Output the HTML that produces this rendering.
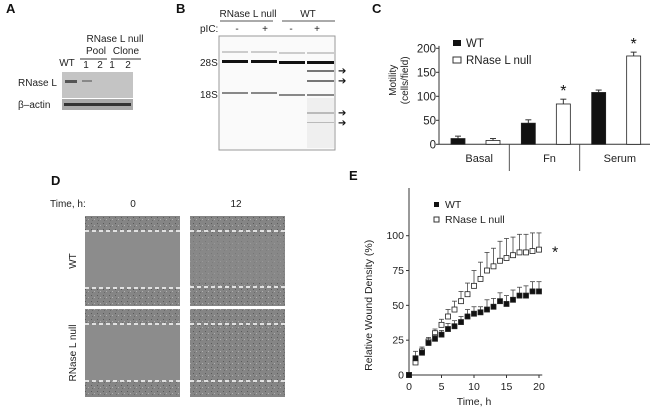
<!DOCTYPE html>
<html><head><meta charset="utf-8"><style>
body{margin:0;background:#fff;}
svg{display:block;font-family:"Liberation Sans",Arial,sans-serif;}
</style></head><body>
<svg id="fig" width="650" height="410" viewBox="0 0 650 410">
<defs>
<pattern id="cells" width="6" height="6" patternUnits="userSpaceOnUse">
<rect width="6" height="6" fill="#858585"/><rect x="1" y="1" width="1" height="1" fill="#5a5a5a"/><rect x="4" y="3" width="1" height="1" fill="#b0b0b0"/><rect x="2" y="4" width="1" height="1" fill="#6a6a6a"/>
</pattern>
</defs>
<g font-weight="bold" font-size="13" fill="#111">
<text x="6" y="13">A</text>
<text x="176" y="13">B</text>
<text x="372" y="13">C</text>
<text x="51" y="185">D</text>
<text x="349" y="180">E</text>
</g>
<!-- Panel A -->
<g font-size="10" fill="#222">
<text x="115" y="42" text-anchor="middle">RNase L null</text>
<text x="96" y="54" text-anchor="middle">Pool</text>
<text x="126" y="54" text-anchor="middle">Clone</text>
<line x1="80" y1="59" x2="107" y2="59" stroke="#333"/><line x1="111" y1="59" x2="141" y2="59" stroke="#333"/>
<text x="67" y="66" text-anchor="middle">WT</text>
<text x="86" y="68" text-anchor="middle">1</text><text x="100" y="68" text-anchor="middle">2</text>
<text x="112" y="68" text-anchor="middle">1</text><text x="128" y="68" text-anchor="middle">2</text>
<text x="18" y="86">RNase L</text>
<text x="18" y="108">β–actin</text>
<rect x="62" y="72" width="71" height="26" fill="#c4c4c4"/>
<rect x="65" y="80" width="12" height="3" fill="#555"/><rect x="82" y="80" width="10" height="2" fill="#888"/>
<rect x="62" y="99" width="71" height="11" fill="#aaa"/>
<rect x="64" y="103" width="67" height="3" fill="#333"/>
</g>
<!-- Panel B -->
<g font-size="10" fill="#222">
<text x="248" y="17" text-anchor="middle">RNase L null</text>
<line x1="220" y1="21" x2="273" y2="21" stroke="#555"/>
<text x="308" y="17" text-anchor="middle">WT</text>
<line x1="282" y1="21" x2="335" y2="21" stroke="#555"/>
<text x="200" y="32">pIC:</text>
<text x="237" y="32" text-anchor="middle">-</text><text x="265" y="32" text-anchor="middle">+</text>
<text x="291" y="32" text-anchor="middle">-</text><text x="317" y="32" text-anchor="middle">+</text>
<text x="200" y="66">28S</text><text x="200" y="98">18S</text>
<rect x="219" y="36" width="116" height="114" fill="#fafafa" stroke="#999"/>
<g fill="#111"><rect x="222" y="60" width="26" height="3"/><rect x="251" y="60" width="26" height="3"/><rect x="279" y="61" width="26" height="3"/><rect x="307" y="61" width="27" height="3"/></g>
<g fill="#888"><rect x="222" y="92" width="26" height="2"/><rect x="251" y="92" width="26" height="2"/><rect x="279" y="94" width="26" height="2"/><rect x="307" y="94" width="27" height="2"/></g>
<g fill="#ccc"><rect x="222" y="51" width="26" height="2"/><rect x="251" y="51" width="26" height="2"/><rect x="279" y="52" width="26" height="2"/><rect x="307" y="52" width="27" height="2"/></g>
<g fill="#777"><rect x="307" y="70" width="27" height="2"/><rect x="307" y="80" width="27" height="2"/><rect x="307" y="112" width="27" height="2"/><rect x="307" y="122" width="27" height="1"/></g>
<rect x="307" y="98" width="27" height="50" fill="#e8e8e8" opacity=".6"/>
<g font-size="10" fill="#111"><text x="338" y="74">➔</text><text x="338" y="84">➔</text><text x="338" y="116">➔</text><text x="338" y="126">➔</text></g>
</g>
<!-- Panel C -->
<g id="chartC"></g>
<!-- Panel D -->
<g font-size="10" fill="#222">
<text x="50" y="207">Time, h:</text>
<text x="133" y="207" text-anchor="middle">0</text>
<text x="236" y="207" text-anchor="middle">12</text>
<text transform="translate(76,261) rotate(-90)" text-anchor="middle">WT</text>
<text transform="translate(76,353) rotate(-90)" text-anchor="middle">RNase L null</text>
<rect x="85" y="216" width="95" height="90" fill="url(#cells)"/>
<rect x="85" y="231" width="95" height="57" fill="#8c8c8c"/>
<rect x="190" y="216" width="95" height="90" fill="url(#cells)"/>
<rect x="190" y="236" width="95" height="46" fill="#8a8a8a" opacity=".6"/>
<rect x="85" y="309" width="95" height="88" fill="url(#cells)"/>
<rect x="85" y="324" width="95" height="57" fill="#8c8c8c"/>
<rect x="190" y="309" width="95" height="88" fill="url(#cells)"/>
<g stroke="#fff" stroke-width="1.5" stroke-dasharray="4 3">
<line x1="85" y1="231" x2="180" y2="231"/><line x1="85" y1="288" x2="180" y2="288"/>
<line x1="190" y1="231" x2="285" y2="231"/><line x1="190" y1="287" x2="285" y2="287"/>
<line x1="85" y1="324" x2="180" y2="324"/><line x1="85" y1="381" x2="180" y2="381"/>
<line x1="190" y1="324" x2="285" y2="324"/><line x1="190" y1="381" x2="285" y2="381"/>
</g>
</g>
<!-- Panel E -->
<g id="chartE"></g>
</svg>
<script>
const NS="http://www.w3.org/2000/svg";
function mk(p,t,a){const e=document.createElementNS(NS,t);for(const k in a)e.setAttribute(k,a[k]);p.appendChild(e);return e;}
// ---- Panel C data
const cCategories=["Basal","Fn","Serum"];
const cWT=[12,44,108];
const cWTerr=[5,7,5];
const cNull=[8,84,184];
const cNullerr=[4,10,8];
const cTicks=[0,50,100,150,200];
const cStars=[false,true,true];
(function(){
const g=document.getElementById('chartC');
const x0=439,y0=144.3,ppu=0.48,xEnd=650;
const y=v=>y0-v*ppu;
const groupW=(xEnd-x0)/3;
mk(g,'line',{x1:x0,y1:y(205),x2:x0,y2:y0,stroke:'#333'});
mk(g,'line',{x1:x0,y1:y0,x2:xEnd,y2:y0,stroke:'#333'});
cTicks.forEach(t=>{mk(g,'line',{x1:x0-3,y1:y(t),x2:x0,y2:y(t),stroke:'#333'});
const tx=mk(g,'text',{x:x0-3,y:y(t)+4,'text-anchor':'end','font-size':11.5,fill:'#222'});tx.textContent=t;});
const yl=mk(g,'text',{transform:`translate(${x0-43},${y0-64}) rotate(-90)`,'text-anchor':'middle','font-size':10,fill:'#222'});
yl.textContent='Motility';
const yl2=mk(g,'text',{transform:`translate(${x0-31},${y0-64}) rotate(-90)`,'text-anchor':'middle','font-size':10,fill:'#222'});
yl2.textContent='(cells/field)';
cCategories.forEach((c,i)=>{
const gx=x0+groupW*i;
const lbl=mk(g,'text',{x:gx+groupW/2+5,y:162,'text-anchor':'middle','font-size':11,fill:'#222'});


lbl.textContent=c;
if(i>0)mk(g,'line',{x1:gx,y1:y0,x2:gx,y2:171,stroke:'#555'});
const bw=14;
[[cWT[i],cWTerr[i],'#111',gx+12],[cNull[i],cNullerr[i],'#fff',gx+47]].forEach((b,j)=>{
mk(g,'line',{x1:b[3]+bw/2,y1:y(b[0]+b[1]),x2:b[3]+bw/2,y2:y(b[0]),stroke:'#333'});
mk(g,'line',{x1:b[3]+bw/2-3,y1:y(b[0]+b[1]),x2:b[3]+bw/2+3,y2:y(b[0]+b[1]),stroke:'#333'});
const r=mk(g,'rect',{x:b[3],y:y(b[0]),width:bw,height:b[0]*ppu,fill:b[2],stroke:'#222','stroke-width':0.8});


});
if(cStars[i]){const s=mk(g,'text',{x:gx+54,y:y(cNull[i]+cNullerr[i])-3,'text-anchor':'middle','font-size':16,fill:'#111'});s.textContent='*';}
});
const lg=mk(g,'g',{});


mk(lg,'rect',{x:453,y:40,width:8,height:6,fill:'#111'});
mk(lg,'text',{x:466,y:47,'font-size':11.5,fill:'#222'}).textContent='WT';
mk(lg,'rect',{x:453,y:57,width:8,height:6,fill:'#fff',stroke:'#333'});
mk(lg,'text',{x:466,y:64,'font-size':11.5,fill:'#222'}).textContent='RNase L null';
})();
// ---- Panel E data
const eTime=[0,1,2,3,4,5,6,7,8,9,10,11,12,13,14,15,16,17,18,19,20];
const eWT=[0,12,16,23,26,29,33,35,38,42,44,45,47,49,53,51,54,57,57,60,60];
const eWTerr=[0,5,4,3,3,3,4,4,4,5,5,4,7,6,6,6,7,6,7,7,7];
const eNull=[0,9,17,24,30,36,42,47,53,58,64,69,75,78,82,84,86,88,88,89,90];
const eNullerr=[0,3,3,3,3,4,5,6,7,8,11,12,13,13,14,14,13,13,13,13,12];
const eXTicks=[0,5,10,15,20];
const eYTicks=[0,25,50,75,100];
(function(){
const g=document.getElementById('chartE');
const x0=409,y0=375,px=6.5,py=1.393;
const X=t=>x0+t*px,Y=v=>y0-v*py;
mk(g,'line',{x1:x0,y1:188,x2:x0,y2:y0,stroke:'#333'});
mk(g,'line',{x1:x0,y1:y0,x2:X(20.5),y2:y0,stroke:'#333'});
eYTicks.forEach(t=>{mk(g,'line',{x1:x0-3,y1:Y(t),x2:x0,y2:Y(t),stroke:'#333'});
mk(g,'text',{x:x0-5,y:Y(t)+3.5,'text-anchor':'end','font-size':10.5,fill:'#222'}).textContent=t;});
eXTicks.forEach(t=>{mk(g,'line',{x1:X(t),y1:y0,x2:X(t),y2:y0+3,stroke:'#333'});
mk(g,'text',{x:X(t),y:y0+15,'text-anchor':'middle','font-size':10.5,fill:'#222'}).textContent=t;});
mk(g,'text',{x:X(10),y:405,'text-anchor':'middle','font-size':10.5,fill:'#222'}).textContent='Time, h';
mk(g,'text',{transform:`translate(${x0-37},${Y(50)}) rotate(-90)`,'text-anchor':'middle','font-size':10.5,fill:'#222'}).textContent='Relative Wound Density (%)';
[[eNull,eNullerr,'#fff'],[eWT,eWTerr,'#111']].forEach((s,si)=>{
eTime.forEach((t,i)=>{
const cx=X(t),cy=Y(s[0][i]),top=Y(s[0][i]+s[1][i]);
if(s[1][i]>0){mk(g,'line',{x1:cx,y1:top,x2:cx,y2:cy,stroke:'#444','stroke-width':0.8});
mk(g,'line',{x1:cx-2.5,y1:top,x2:cx+2.5,y2:top,stroke:'#444','stroke-width':0.8});}
const p=mk(g,'rect',{x:cx-2.5,y:cy-2.5,width:5,height:5,fill:s[2],stroke:'#222','stroke-width':0.8});


});});
mk(g,'text',{x:552,y:Y(eNull[20])+8,'font-size':16,fill:'#111'}).textContent='*';
const lg=mk(g,'g',{});


mk(lg,'rect',{x:434,y:202,width:5,height:5,fill:'#111'});
mk(lg,'text',{x:445,y:208,'font-size':10.5,fill:'#222'}).textContent='WT';
mk(lg,'rect',{x:434,y:217,width:5,height:5,fill:'#fff',stroke:'#333'});
mk(lg,'text',{x:445,y:223,'font-size':10.5,fill:'#222'}).textContent='RNase L null';
})();
</script>
</body></html>
